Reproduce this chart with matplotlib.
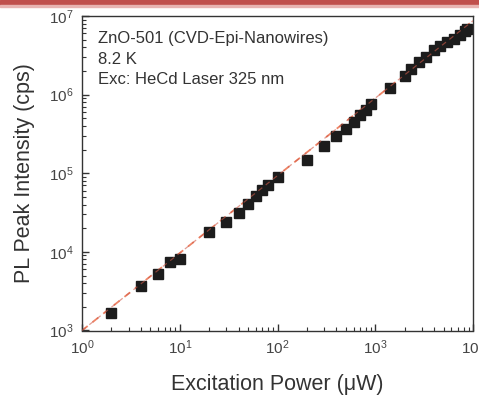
#!/usr/bin/env python3
"""PL peak intensity vs excitation power (ZnO-501 nanowires, 8.2 K)."""

import matplotlib

matplotlib.use("Agg")
import matplotlib.pyplot as plt
import numpy as np
from matplotlib.patches import Rectangle
from matplotlib.ticker import LogLocator, NullFormatter

# excitation power (uW) and PL peak intensity (cps)
power_uw = [2, 4, 6, 8, 10, 20, 30, 40, 50, 60, 70, 80, 100,
            200, 300, 400, 500, 600, 700, 800, 900, 1400,
            2000, 2300, 2800, 3300, 4000, 4650, 5400, 6400, 7400, 8200, 8700]
intensity_cps = [1.68e3, 3.7e3, 5.3e3, 7.5e3, 8.1e3, 1.77e4, 2.37e4, 3.14e4,
                 4.1e4, 5.2e4, 6.1e4, 7.1e4, 9.0e4,
                 1.47e5, 2.23e5, 2.96e5, 3.7e5, 4.5e5, 5.5e5, 6.45e5, 7.7e5, 1.2e6,
                 1.73e6, 2.14e6, 2.6e6, 3.0e6, 3.66e6, 4.16e6, 4.7e6, 5.17e6,
                 5.8e6, 6.4e6, 6.9e6]

# power-law guide line  I = A * P^k
fit_prefactor = 1.0e3
fit_slope = 0.985
fit_range = [1.0, 1.0e4]

annotation = ["ZnO-501 (CVD-Epi-Nanowires)", "8.2 K", "Exc: HeCd Laser 325 nm"]

plt.rcParams["font.family"] = ["Liberation Sans", "DejaVu Sans"]
plt.rcParams["mathtext.fontset"] = "custom"
plt.rcParams["mathtext.rm"] = "Liberation Sans"

fig = plt.figure(figsize=(4.79, 3.96), dpi=100)
fig.patches.append(Rectangle((0, 1 - 5 / 396), 1, 5 / 396, transform=fig.transFigure,
                             color="#c0504d", zorder=0))
fig.patches.append(Rectangle((0, 1 - 7 / 396), 1, 2 / 396, transform=fig.transFigure,
                             color="#e8b4b2", zorder=0))

ax = fig.add_axes([82 / 479, 1 - 330.5 / 396, 391 / 479, 314.5 / 396])

fx = np.array(fit_range)
ax.plot(fx, fit_prefactor * fx ** fit_slope, ls=(0, (4, 3.5)), color="#ee8466",
        lw=1.3, zorder=1)
ax.plot(power_uw, intensity_cps, ls="none", marker="s", ms=7.8, mfc="#1c1c1c",
        mec="#1c1c1c", zorder=2)
# dashed line shows through the squares in the original
ax.plot(fx, fit_prefactor * fx ** fit_slope, ls=(0, (4, 3.5)), color="#d05a48",
        lw=0.9, alpha=0.6, zorder=3)

ax.set_xscale("log")
ax.set_yscale("log")
ax.set_xlim(1, 1e4)
ax.set_ylim(1e3, 1e7)
ax.xaxis.set_major_locator(LogLocator(base=10, numticks=10))
ax.yaxis.set_major_locator(LogLocator(base=10, numticks=10))
ax.xaxis.set_minor_locator(LogLocator(base=10, subs=np.arange(2, 10), numticks=20))
ax.yaxis.set_minor_locator(LogLocator(base=10, subs=np.arange(2, 10), numticks=20))
ax.xaxis.set_minor_formatter(NullFormatter())
ax.yaxis.set_minor_formatter(NullFormatter())

ax.tick_params(which="both", direction="in", top=False, right=False,
               colors="#333333", labelcolor="#444444", labelsize=11)
ax.tick_params(which="major", length=5, width=1.0, pad=6)
ax.tick_params(which="minor", length=3, width=0.8)
for sp in ax.spines.values():
    sp.set_color("#333333")
    sp.set_linewidth(1.0)

ax.set_xlabel("Excitation Power (\u03bcW)", fontsize=15.5, color="#333333", labelpad=12)
ax.set_ylabel("PL Peak Intensity (cps)", fontsize=15.5, color="#333333", labelpad=10)

for i, line in enumerate(annotation):
    ax.text(98 / 479, 1 - (39 + 20.5 * i) / 396, line, transform=fig.transFigure,
            fontsize=12, color="#333333", va="center", ha="left")

fig.savefig("out.png", dpi=100)
